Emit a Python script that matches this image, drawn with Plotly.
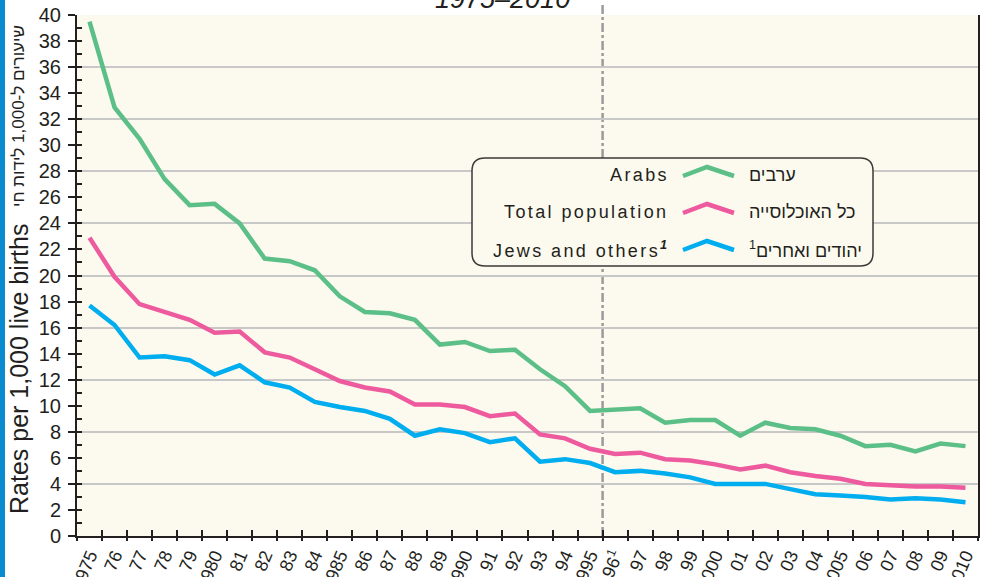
import plotly.graph_objects as go

# ---------------- data ----------------
years = list(range(1975, 2011))
year_labels = ["1975", "76", "77", "78", "79", "1980", "81", "82", "83", "84",
               "1985", "86", "87", "88", "89", "1990", "91", "92", "93", "94",
               "1995", "96<sup>1</sup>", "97", "98", "99", "2000", "01", "02", "03", "04",
               "2005", "06", "07", "08", "09", "2010"]
arabs = [39.5, 32.9, 30.5, 27.4, 25.4, 25.5, 24.0, 21.3, 21.1, 20.4,
         18.4, 17.2, 17.1, 16.6, 14.7, 14.9, 14.2, 14.3, 12.8, 11.5,
         9.6, 9.7, 9.8, 8.7, 8.9, 8.9, 7.7, 8.7, 8.3, 8.2,
         7.7, 6.9, 7.0, 6.5, 7.1, 6.9]
total = [22.9, 19.9, 17.8, 17.2, 16.6, 15.6, 15.7, 14.1, 13.7, 12.8,
         11.9, 11.4, 11.1, 10.1, 10.1, 9.9, 9.2, 9.4, 7.8, 7.5,
         6.7, 6.3, 6.4, 5.9, 5.8, 5.5, 5.1, 5.4, 4.9, 4.6,
         4.4, 4.0, 3.9, 3.8, 3.8, 3.7]
jews = [17.7, 16.2, 13.7, 13.8, 13.5, 12.4, 13.1, 11.8, 11.4, 10.3,
        9.9, 9.6, 9.0, 7.7, 8.2, 7.9, 7.2, 7.5, 5.7, 5.9,
        5.6, 4.9, 5.0, 4.8, 4.5, 4.0, 4.0, 4.0, 3.6, 3.2,
        3.1, 3.0, 2.8, 2.9, 2.8, 2.6]
names_en = ["Arabs", "Total population", "Jews and others<sup><b><i>1</i></b></sup>"]
names_he = ["ערבים", "כל האוכלוסייה", "יהודים ואחרים<sup>1</sup>"]
series = [arabs, total, jews]
colors = ["#5cbf87", "#ee5a9e", "#00adef"]
break_between = (1995, 1996)
y_min, y_max = 0, 40
title_text = "1975–2010"
ytitle_en = "Rates per 1,000 live births"
ytitle_he = "שיעורים ל-1,000 לידות חי"

# ---------------- geometry helpers ----------------
W, H = 981, 577
ML, MR, MT, MB = 77, 3, 15, 41
PW, PH = W - ML - MR, H - MT - MB


def px(x):
    return (x - ML) / PW


def py(y):
    return (H - MB - y) / PH


BG = "#fcfaee"
INK = "#231f20"
FONT = "Liberation Sans, Arial, sans-serif"

x_range = [years[0] - 0.5, years[-1] + 0.5]
half_years = [y - 0.5 for y in years] + [years[-1] + 0.5]

fig = go.Figure()
for vals, col, nm in zip(series, colors, names_en):
    fig.add_trace(go.Scatter(x=years, y=vals, mode="lines", name=nm,
                             line=dict(color=col, width=4.5),
                             showlegend=False))
# helper traces to realise the overlay axes
fig.add_trace(go.Scatter(x=[None], y=[None], xaxis="x2", yaxis="y2",
                         showlegend=False, hoverinfo="skip"))
fig.add_trace(go.Scatter(x=[None], y=[None], xaxis="x3", yaxis="y3",
                         showlegend=False, hoverinfo="skip"))

fig.update_layout(
    width=W, height=H,
    margin=dict(l=ML, r=MR, t=MT, b=MB),
    paper_bgcolor="white",
    plot_bgcolor=BG,
    font=dict(family=FONT, color=INK),
    xaxis=dict(range=x_range, tickmode="array", tickvals=years, ticktext=year_labels,
               ticks="", tickangle=-67, tickfont=dict(size=18, color=INK),
               showline=True, linecolor=INK, linewidth=2,
               showgrid=False, zeroline=False, automargin=False),
    xaxis2=dict(range=x_range, overlaying="x", tickmode="array", tickvals=half_years,
                ticks="outside", ticklen=4, tickwidth=1.5, tickcolor=INK,
                showticklabels=False, showline=False, showgrid=False, zeroline=False),
    xaxis3=dict(range=x_range, overlaying="x", tickmode="array", tickvals=half_years,
                ticks="inside", ticklen=6, tickwidth=1.5, tickcolor=INK,
                showticklabels=False, showline=False, showgrid=False, zeroline=False),
    yaxis=dict(range=[y_min, y_max], tickmode="linear", tick0=0, dtick=2,
               ticks="outside", ticklen=7, tickwidth=2, tickcolor=INK,
               tickfont=dict(size=20, color=INK), ticklabelstandoff=3,
               showline=True, linecolor=INK, linewidth=2,
               showgrid=False, zeroline=False, automargin=False),
    yaxis2=dict(range=[y_min, y_max], overlaying="y", side="left", tickmode="linear",
                tick0=0, dtick=1, ticks="inside", ticklen=5, tickwidth=2,
                tickcolor=INK, showticklabels=False, showline=False,
                showgrid=False, zeroline=False),
    yaxis3=dict(range=[y_min, y_max], overlaying="y", side="right", tickmode="linear",
                tick0=0, dtick=4, ticks="", showticklabels=False,
                showline=True, linecolor=INK, linewidth=2,
                showgrid=True, gridcolor="#c8c8c8", gridwidth=2, zeroline=False),
)

shapes = []
# left blue strip
shapes.append(dict(type="rect", xref="paper", yref="paper",
                   x0=px(0), x1=px(5), y0=py(H), y1=py(0),
                   fillcolor="#0a8bd0", line=dict(width=0), layer="above"))
# dashed separator between the two series definitions
bx = sum(break_between) / 2
shapes.append(dict(type="line", xref="x", yref="paper", x0=bx, x1=bx,
                   y0=0, y1=py(5), line=dict(color="#9a9a9a", width=2.5,
                                              dash="9px,3px,3px,3px"),
                   layer="between"))

# legend box with rounded corners
bx0, bx1, by0, by1 = 472, 873, 158, 266
r = 13


def rounded(x0, y0, x1, y1, r):
    p = []
    p.append(f"M {px(x0 + r)} {py(y0)}")
    p.append(f"L {px(x1 - r)} {py(y0)}")
    p.append(f"Q {px(x1)} {py(y0)} {px(x1)} {py(y0 + r)}")
    p.append(f"L {px(x1)} {py(y1 - r)}")
    p.append(f"Q {px(x1)} {py(y1)} {px(x1 - r)} {py(y1)}")
    p.append(f"L {px(x0 + r)} {py(y1)}")
    p.append(f"Q {px(x0)} {py(y1)} {px(x0)} {py(y1 - r)}")
    p.append(f"L {px(x0)} {py(y0 + r)}")
    p.append(f"Q {px(x0)} {py(y0)} {px(x0 + r)} {py(y0)}")
    p.append("Z")
    return " ".join(p)


shapes.append(dict(type="path", xref="paper", yref="paper",
                   path=rounded(bx0, by0, bx1, by1, r),
                   fillcolor=BG, line=dict(color="#3a3a3a", width=1.5), layer="above"))

row_y = [175, 212, 249]
annotations = []
for cy, col, en, he in zip(row_y, colors, names_en, names_he):
    shapes.append(dict(type="path", xref="paper", yref="paper",
                       path=f"M {px(683)} {py(cy + 1)} L {px(707)} {py(cy - 8)} L {px(734)} {py(cy + 1)}",
                       line=dict(color=col, width=4.5), layer="above"))
    annotations.append(dict(xref="paper", yref="paper", x=px(671), y=py(cy),
                            xanchor="right", yanchor="middle", showarrow=False,
                            text=f'<span style="letter-spacing:2.4px">{en}</span>',
                            font=dict(size=18, color=INK)))
    annotations.append(dict(xref="paper", yref="paper", x=px(747), y=py(cy),
                            xanchor="left", yanchor="middle", showarrow=False,
                            text=he, font=dict(size=18, color=INK)))

# title (partly cut by the page top)
annotations.append(dict(xref="paper", yref="paper", x=px(502), y=py(16),
                        xanchor="center", yanchor="bottom", showarrow=False,
                        text=f"<i>{title_text}</i>",
                        font=dict(size=27, color=INK)))
# y-axis titles
annotations.append(dict(xref="paper", yref="paper", x=px(19), y=py(369),
                        xanchor="center", yanchor="middle", showarrow=False,
                        textangle=-90, text=ytitle_en,
                        font=dict(size=25, color=INK)))
annotations.append(dict(xref="paper", yref="paper", x=px(18), y=py(116),
                        xanchor="center", yanchor="middle", showarrow=False,
                        textangle=-90, text=ytitle_he,
                        font=dict(size=17, color=INK)))

fig.update_layout(shapes=shapes, annotations=annotations)

fig.write_html("out.html", config={"displayModeBar": False},
               post_script="document.body.style.margin='0';")
